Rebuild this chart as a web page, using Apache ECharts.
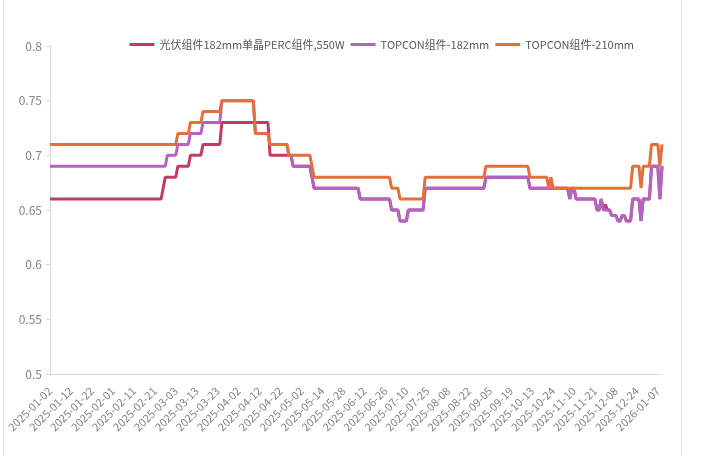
<!DOCTYPE html>
<html>
<head>
<meta charset="utf-8">
<title>组件价格</title>
<script src="https://cdn.jsdelivr.net/npm/echarts@6/dist/echarts.min.js"></script>
<style>
html, body { margin: 0; padding: 0; background: #fff; }
#main { width: 701px; height: 456px; }
</style>
</head>
<body>
<div id="main"></div>
<script>
// 横轴每隔10个点显示的日期
var tickDates = ['2025-01-02', '2025-01-12', '2025-01-22', '2025-02-01', '2025-02-11', '2025-02-21',
    '2025-03-03', '2025-03-13', '2025-03-23', '2025-04-02', '2025-04-12', '2025-04-22',
    '2025-05-02', '2025-05-14', '2025-05-28', '2025-06-12', '2025-06-26', '2025-07-10',
    '2025-07-25', '2025-08-08', '2025-08-22', '2025-09-05', '2025-09-19', '2025-10-13',
    '2025-10-24', '2025-11-10', '2025-11-21', '2025-12-08', '2025-12-24', '2026-01-07'];
var tailDates = ['2026-01-08', '2026-01-09'];

var seriesNames = ['光伏组件182mm单晶PERC组件,550W', 'TOPCON组件-182mm', 'TOPCON组件-210mm'];

// 元/W
var perc550 = [
    0.66, 0.66, 0.66, 0.66, 0.66, 0.66, 0.66, 0.66, 0.66, 0.66,
    0.66, 0.66, 0.66, 0.66, 0.66, 0.66, 0.66, 0.66, 0.66, 0.66,
    0.66, 0.66, 0.66, 0.66, 0.66, 0.66, 0.66, 0.66, 0.66, 0.66,
    0.66, 0.66, 0.66, 0.66, 0.66, 0.66, 0.66, 0.66, 0.66, 0.66,
    0.66, 0.66, 0.66, 0.66, 0.66, 0.66, 0.66, 0.66, 0.66, 0.66,
    0.66, 0.66, 0.66, 0.66, 0.67, 0.68, 0.68, 0.68, 0.68, 0.68,
    0.68, 0.69, 0.69, 0.69, 0.69, 0.69, 0.69, 0.70, 0.70, 0.70,
    0.70, 0.70, 0.70, 0.71, 0.71, 0.71, 0.71, 0.71, 0.71, 0.71,
    0.71, 0.71, 0.73, 0.73, 0.73, 0.73, 0.73, 0.73, 0.73, 0.73,
    0.73, 0.73, 0.73, 0.73, 0.73, 0.73, 0.73, 0.73, 0.73, 0.73,
    0.73, 0.73, 0.73, 0.73, 0.73, 0.70, 0.70, 0.70, 0.70, 0.70,
    0.70, 0.70, 0.70, 0.70, 0.70, 0.70, 0.69, 0.69, 0.69, 0.69,
    0.69, 0.69, 0.69, 0.69, 0.69, 0.68, 0.67, 0.67, 0.67, 0.67,
    0.67, 0.67, 0.67, 0.67, 0.67, 0.67, 0.67, 0.67, 0.67, 0.67,
    0.67, 0.67, 0.67, 0.67, 0.67, 0.67, 0.67, 0.67, 0.66, 0.66,
    0.66, 0.66, 0.66, 0.66, 0.66, 0.66, 0.66, 0.66, 0.66, 0.66,
    0.66, 0.66, 0.66, 0.65, 0.65, 0.65, 0.65, 0.64, 0.64, 0.64,
    0.64, 0.65, 0.65, 0.65, 0.65, 0.65, 0.65, 0.65, 0.65, 0.67,
    0.67, 0.67, 0.67, 0.67, 0.67, 0.67, 0.67, 0.67, 0.67, 0.67,
    0.67, 0.67, 0.67, 0.67, 0.67, 0.67, 0.67, 0.67, 0.67, 0.67,
    0.67, 0.67, 0.67, 0.67, 0.67, 0.67, 0.67, 0.67, 0.68, 0.68,
    0.68, 0.68, 0.68, 0.68, 0.68, 0.68, 0.68, 0.68, 0.68, 0.68,
    0.68, 0.68, 0.68, 0.68, 0.68, 0.68, 0.68, 0.68, 0.68, 0.67,
    0.67, 0.67, 0.67, 0.67, 0.67, 0.67, 0.67, 0.67, 0.67, 0.67,
    0.67, 0.67, 0.67, 0.67, 0.67, 0.67, 0.67, 0.67, 0.66, 0.67,
    0.67, 0.66, 0.66, 0.66, 0.66, 0.66, 0.66, 0.66, 0.66, 0.66,
    0.66, 0.65, 0.65, 0.66, 0.65, 0.655, 0.65, 0.65, 0.645, 0.645,
    0.645, 0.64, 0.64, 0.645, 0.645, 0.64, 0.64, 0.64, 0.66, 0.66,
    0.66, 0.66, 0.64, 0.66, 0.66, 0.66, 0.66, 0.69, 0.69, 0.69,
    0.69, 0.66, 0.69
];

var topcon182 = [
    0.69, 0.69, 0.69, 0.69, 0.69, 0.69, 0.69, 0.69, 0.69, 0.69,
    0.69, 0.69, 0.69, 0.69, 0.69, 0.69, 0.69, 0.69, 0.69, 0.69,
    0.69, 0.69, 0.69, 0.69, 0.69, 0.69, 0.69, 0.69, 0.69, 0.69,
    0.69, 0.69, 0.69, 0.69, 0.69, 0.69, 0.69, 0.69, 0.69, 0.69,
    0.69, 0.69, 0.69, 0.69, 0.69, 0.69, 0.69, 0.69, 0.69, 0.69,
    0.69, 0.69, 0.69, 0.69, 0.69, 0.69, 0.70, 0.70, 0.70, 0.70,
    0.70, 0.71, 0.71, 0.71, 0.71, 0.71, 0.71, 0.72, 0.72, 0.72,
    0.72, 0.72, 0.72, 0.73, 0.73, 0.73, 0.73, 0.73, 0.73, 0.73,
    0.73, 0.73, 0.75, 0.75, 0.75, 0.75, 0.75, 0.75, 0.75, 0.75,
    0.75, 0.75, 0.75, 0.75, 0.75, 0.75, 0.75, 0.75, 0.72, 0.72,
    0.72, 0.72, 0.72, 0.72, 0.72, 0.71, 0.71, 0.71, 0.71, 0.71,
    0.71, 0.71, 0.71, 0.71, 0.70, 0.70, 0.69, 0.69, 0.69, 0.69,
    0.69, 0.69, 0.69, 0.69, 0.69, 0.68, 0.67, 0.67, 0.67, 0.67,
    0.67, 0.67, 0.67, 0.67, 0.67, 0.67, 0.67, 0.67, 0.67, 0.67,
    0.67, 0.67, 0.67, 0.67, 0.67, 0.67, 0.67, 0.67, 0.66, 0.66,
    0.66, 0.66, 0.66, 0.66, 0.66, 0.66, 0.66, 0.66, 0.66, 0.66,
    0.66, 0.66, 0.66, 0.65, 0.65, 0.65, 0.65, 0.64, 0.64, 0.64,
    0.64, 0.65, 0.65, 0.65, 0.65, 0.65, 0.65, 0.65, 0.65, 0.67,
    0.67, 0.67, 0.67, 0.67, 0.67, 0.67, 0.67, 0.67, 0.67, 0.67,
    0.67, 0.67, 0.67, 0.67, 0.67, 0.67, 0.67, 0.67, 0.67, 0.67,
    0.67, 0.67, 0.67, 0.67, 0.67, 0.67, 0.67, 0.67, 0.68, 0.68,
    0.68, 0.68, 0.68, 0.68, 0.68, 0.68, 0.68, 0.68, 0.68, 0.68,
    0.68, 0.68, 0.68, 0.68, 0.68, 0.68, 0.68, 0.68, 0.68, 0.67,
    0.67, 0.67, 0.67, 0.67, 0.67, 0.67, 0.67, 0.67, 0.67, 0.67,
    0.67, 0.67, 0.67, 0.67, 0.67, 0.67, 0.67, 0.67, 0.66, 0.67,
    0.67, 0.66, 0.66, 0.66, 0.66, 0.66, 0.66, 0.66, 0.66, 0.66,
    0.66, 0.65, 0.65, 0.66, 0.65, 0.65, 0.65, 0.65, 0.645, 0.645,
    0.645, 0.64, 0.64, 0.645, 0.645, 0.64, 0.64, 0.64, 0.66, 0.66,
    0.66, 0.66, 0.64, 0.66, 0.66, 0.66, 0.66, 0.69, 0.69, 0.69,
    0.69, 0.66, 0.69
];

var topcon210 = [
    0.71, 0.71, 0.71, 0.71, 0.71, 0.71, 0.71, 0.71, 0.71, 0.71,
    0.71, 0.71, 0.71, 0.71, 0.71, 0.71, 0.71, 0.71, 0.71, 0.71,
    0.71, 0.71, 0.71, 0.71, 0.71, 0.71, 0.71, 0.71, 0.71, 0.71,
    0.71, 0.71, 0.71, 0.71, 0.71, 0.71, 0.71, 0.71, 0.71, 0.71,
    0.71, 0.71, 0.71, 0.71, 0.71, 0.71, 0.71, 0.71, 0.71, 0.71,
    0.71, 0.71, 0.71, 0.71, 0.71, 0.71, 0.71, 0.71, 0.71, 0.71,
    0.71, 0.72, 0.72, 0.72, 0.72, 0.72, 0.72, 0.73, 0.73, 0.73,
    0.73, 0.73, 0.73, 0.74, 0.74, 0.74, 0.74, 0.74, 0.74, 0.74,
    0.74, 0.74, 0.75, 0.75, 0.75, 0.75, 0.75, 0.75, 0.75, 0.75,
    0.75, 0.75, 0.75, 0.75, 0.75, 0.75, 0.75, 0.75, 0.72, 0.72,
    0.72, 0.72, 0.72, 0.72, 0.72, 0.71, 0.71, 0.71, 0.71, 0.71,
    0.71, 0.71, 0.71, 0.71, 0.70, 0.70, 0.70, 0.70, 0.70, 0.70,
    0.70, 0.70, 0.70, 0.70, 0.70, 0.69, 0.68, 0.68, 0.68, 0.68,
    0.68, 0.68, 0.68, 0.68, 0.68, 0.68, 0.68, 0.68, 0.68, 0.68,
    0.68, 0.68, 0.68, 0.68, 0.68, 0.68, 0.68, 0.68, 0.68, 0.68,
    0.68, 0.68, 0.68, 0.68, 0.68, 0.68, 0.68, 0.68, 0.68, 0.68,
    0.68, 0.68, 0.68, 0.67, 0.67, 0.67, 0.67, 0.66, 0.66, 0.66,
    0.66, 0.66, 0.66, 0.66, 0.66, 0.66, 0.66, 0.66, 0.66, 0.68,
    0.68, 0.68, 0.68, 0.68, 0.68, 0.68, 0.68, 0.68, 0.68, 0.68,
    0.68, 0.68, 0.68, 0.68, 0.68, 0.68, 0.68, 0.68, 0.68, 0.68,
    0.68, 0.68, 0.68, 0.68, 0.68, 0.68, 0.68, 0.68, 0.69, 0.69,
    0.69, 0.69, 0.69, 0.69, 0.69, 0.69, 0.69, 0.69, 0.69, 0.69,
    0.69, 0.69, 0.69, 0.69, 0.69, 0.69, 0.69, 0.69, 0.69, 0.68,
    0.68, 0.68, 0.68, 0.68, 0.68, 0.68, 0.68, 0.68, 0.67, 0.68,
    0.67, 0.67, 0.67, 0.67, 0.67, 0.67, 0.67, 0.67, 0.67, 0.67,
    0.67, 0.67, 0.67, 0.67, 0.67, 0.67, 0.67, 0.67, 0.67, 0.67,
    0.67, 0.67, 0.67, 0.67, 0.67, 0.67, 0.67, 0.67, 0.67, 0.67,
    0.67, 0.67, 0.67, 0.67, 0.67, 0.67, 0.67, 0.67, 0.69, 0.69,
    0.69, 0.69, 0.67, 0.69, 0.69, 0.69, 0.69, 0.71, 0.71, 0.71,
    0.71, 0.69, 0.71
];

// 两个刻度日期之间补齐10个数据点的日期（多出来的先去掉周末）
function pad(n) { return n < 10 ? '0' + n : '' + n; }
function fmt(d) { return d.getUTCFullYear() + '-' + pad(d.getUTCMonth() + 1) + '-' + pad(d.getUTCDate()); }
var dates = [];
for (var k = 0; k < tickDates.length - 1; k++) {
    var a = new Date(tickDates[k] + 'T00:00:00Z').getTime();
    var b = new Date(tickDates[k + 1] + 'T00:00:00Z').getTime();
    var seg = [];
    for (var t = a; t < b; t += 86400000) seg.push(new Date(t));
    for (var j = seg.length - 1; j > 0 && seg.length > 10; j--) {
        var wd = seg[j].getUTCDay();
        if (wd === 0 || wd === 6) seg.splice(j, 1);
    }
    seg.slice(0, 10).forEach(function (d) { dates.push(fmt(d)); });
}
dates.push(tickDates[tickDates.length - 1]);
dates = dates.concat(tailDates);

var colors = ['#C23B62', '#B264C0', '#E3703A'];
var seriesData = [perc550, topcon182, topcon210];

var myChart = echarts.init(document.getElementById('main'));
var option = {
    animation: false,
    backgroundColor: '#fff',
    color: colors,
    textStyle: { fontFamily: '"Noto Sans CJK SC", "Noto Sans", sans-serif' },
    graphic: [
        { type: 'line', shape: { x1: 3.5, y1: 0, x2: 3.5, y2: 456 }, style: { stroke: '#e6e6e6', lineWidth: 1 } },
        { type: 'line', shape: { x1: 681.5, y1: 0, x2: 681.5, y2: 456 }, style: { stroke: '#e6e6e6', lineWidth: 1 } }
    ],
    legend: {
        data: seriesNames,
        right: 62,
        top: 34,
        icon: 'rect',
        itemWidth: 25,
        itemHeight: 3,
        itemGap: 6,
        textStyle: { color: '#595959', fontSize: 11 }
    },
    grid: { left: 50, right: 39, top: 46, bottom: 82, containLabel: false },
    xAxis: {
        type: 'category',
        boundaryGap: false,
        data: dates,
        axisLine: { lineStyle: { color: '#d9d9d9' } },
        axisTick: { show: false },
        axisLabel: {
            interval: 9,
            rotate: 45,
            color: '#858585',
            fontSize: 11,
            margin: 15
        },
        splitLine: { show: false }
    },
    yAxis: {
        type: 'value',
        min: 0.5,
        max: 0.8,
        interval: 0.05,
        axisLine: { show: true, lineStyle: { color: '#d9d9d9' } },
        axisTick: { show: true, length: 4, lineStyle: { color: '#d9d9d9' } },
        axisLabel: { color: '#858585', fontSize: 12, margin: 8 },
        splitLine: { show: false }
    },
    series: seriesNames.map(function (name, i) {
        return {
            name: name,
            type: 'line',
            data: seriesData[i],
            showSymbol: false,
            symbol: 'none',
            lineStyle: { width: 3, color: colors[i] }
        };
    })
};
myChart.setOption(option);
window.addEventListener('resize', function () {
    myChart.resize();
});
</script>
</body>
</html>
